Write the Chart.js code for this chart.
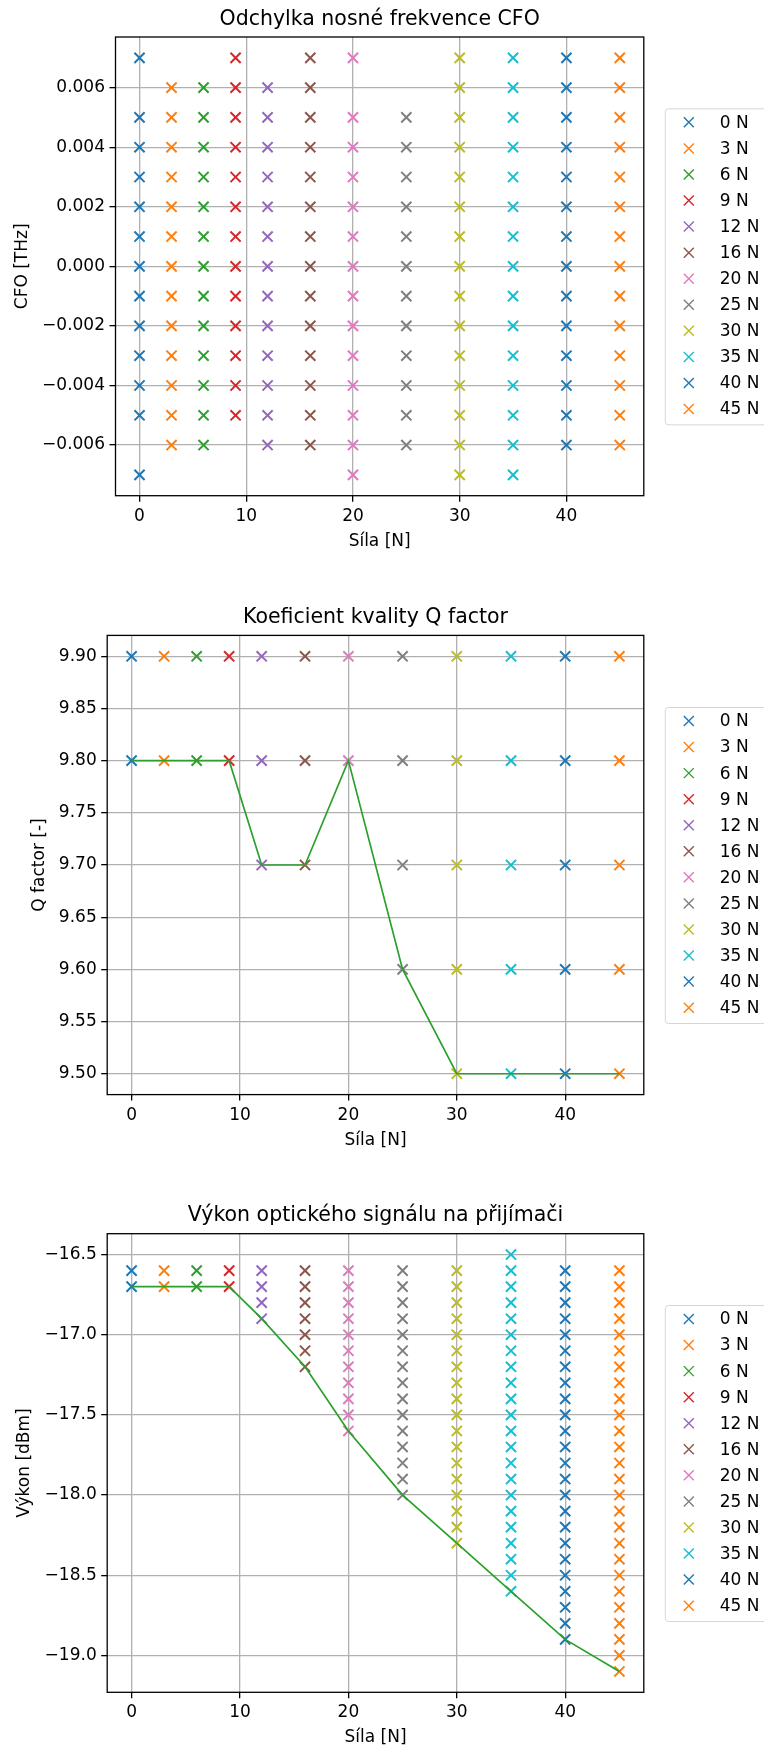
<!DOCTYPE html>
<html>
<head>
<meta charset="utf-8">
<script src="https://cdn.jsdelivr.net/npm/chart.js@4.4.0/dist/chart.umd.min.js"></script>
<style>
    html, body { margin: 0; padding: 0; background: #fff; overflow: hidden; }
    body { width: 764px; height: 1749px; position: relative; }
    canvas { position: absolute; left: 0; }
</style>
</head>
<body>
<canvas id="cfoChart" width="764" height="560" style="top:0px"></canvas>
<canvas id="qChart" width="764" height="600" style="top:560px"></canvas>
<canvas id="powerChart" width="764" height="580" style="top:1180px"></canvas>
<script>
// force levels (x) and legend labels
var forces = [0, 3, 6, 9, 12, 16, 20, 25, 30, 35, 40, 45];
var forceLabels = ['0 N', '3 N', '6 N', '9 N', '12 N', '16 N', '20 N', '25 N', '30 N', '35 N', '40 N', '45 N'];
var colors = ['#1f77b4', '#ff7f0e', '#2ca02c', '#d62728', '#9467bd', '#8c564b',
              '#e377c2', '#7f7f7f', '#bcbd22', '#17becf', '#1f77b4', '#ff7f0e'];

// CFO [THz] readings, one list per force
var cfoValues = [
    [0.007, 0.005, 0.004, 0.003, 0.002, 0.001, 0, -0.001, -0.002, -0.003, -0.004, -0.005, -0.007],
    [0.006, 0.005, 0.004, 0.003, 0.002, 0.001, 0, -0.001, -0.002, -0.003, -0.004, -0.005, -0.006],
    [0.006, 0.005, 0.004, 0.003, 0.002, 0.001, 0, -0.001, -0.002, -0.003, -0.004, -0.005, -0.006],
    [0.007, 0.006, 0.005, 0.004, 0.003, 0.002, 0.001, 0, -0.001, -0.002, -0.003, -0.004, -0.005],
    [0.006, 0.005, 0.004, 0.003, 0.002, 0.001, 0, -0.001, -0.002, -0.003, -0.004, -0.005, -0.006],
    [0.007, 0.006, 0.005, 0.004, 0.003, 0.002, 0.001, 0, -0.001, -0.002, -0.003, -0.004, -0.005, -0.006],
    [0.007, 0.005, 0.004, 0.003, 0.002, 0.001, 0, -0.001, -0.002, -0.003, -0.004, -0.005, -0.006, -0.007],
    [0.005, 0.004, 0.003, 0.002, 0.001, 0, -0.001, -0.002, -0.003, -0.004, -0.005, -0.006],
    [0.007, 0.006, 0.005, 0.004, 0.003, 0.002, 0.001, 0, -0.001, -0.002, -0.003, -0.004, -0.005, -0.006, -0.007],
    [0.007, 0.006, 0.005, 0.004, 0.003, 0.002, 0.001, 0, -0.001, -0.002, -0.003, -0.004, -0.005, -0.006, -0.007],
    [0.007, 0.006, 0.005, 0.004, 0.003, 0.002, 0.001, 0, -0.001, -0.002, -0.003, -0.004, -0.005, -0.006],
    [0.007, 0.006, 0.005, 0.004, 0.003, 0.002, 0.001, 0, -0.001, -0.002, -0.003, -0.004, -0.005, -0.006]
];

// Q factor readings, one list per force
var qValues = [
    [9.9, 9.8],
    [9.9, 9.8],
    [9.9, 9.8],
    [9.9, 9.8],
    [9.9, 9.8, 9.7],
    [9.9, 9.8, 9.7],
    [9.9, 9.8],
    [9.9, 9.8, 9.7, 9.6],
    [9.9, 9.8, 9.7, 9.6, 9.5],
    [9.9, 9.8, 9.7, 9.6, 9.5],
    [9.9, 9.8, 9.7, 9.6, 9.5],
    [9.9, 9.8, 9.7, 9.6, 9.5]
];
var qLine = [9.8, 9.8, 9.8, 9.8, 9.7, 9.7, 9.8, 9.6, 9.5, 9.5, 9.5, 9.5];

// received power [dBm], one list per force
var powerValues = [
    [-16.6, -16.7],
    [-16.6, -16.7],
    [-16.6, -16.7],
    [-16.6, -16.7],
    [-16.6, -16.7, -16.8, -16.9],
    [-16.6, -16.7, -16.8, -16.9, -17.0, -17.1, -17.2],
    [-16.6, -16.7, -16.8, -16.9, -17.0, -17.1, -17.2, -17.3, -17.4, -17.5, -17.6],
    [-16.6, -16.7, -16.8, -16.9, -17.0, -17.1, -17.2, -17.3, -17.4, -17.5, -17.6, -17.7, -17.8, -17.9, -18.0],
    [-16.6, -16.7, -16.8, -16.9, -17.0, -17.1, -17.2, -17.3, -17.4, -17.5, -17.6, -17.7, -17.8, -17.9, -18.0,
     -18.1, -18.2, -18.3],
    [-16.5, -16.6, -16.7, -16.8, -16.9, -17.0, -17.1, -17.2, -17.3, -17.4, -17.5, -17.6, -17.7, -17.8, -17.9,
     -18.0, -18.1, -18.2, -18.3, -18.4, -18.5, -18.6],
    [-16.6, -16.7, -16.8, -16.9, -17.0, -17.1, -17.2, -17.3, -17.4, -17.5, -17.6, -17.7, -17.8, -17.9, -18.0,
     -18.1, -18.2, -18.3, -18.4, -18.5, -18.6, -18.7, -18.8, -18.9],
    [-16.6, -16.7, -16.8, -16.9, -17.0, -17.1, -17.2, -17.3, -17.4, -17.5, -17.6, -17.7, -17.8, -17.9, -18.0,
     -18.1, -18.2, -18.3, -18.4, -18.5, -18.6, -18.7, -18.8, -18.9, -19.0, -19.1]
];
var powerLine = [-16.7, -16.7, -16.7, -16.7, -16.9, -17.2, -17.6, -18.0, -18.3, -18.6, -18.9, -19.1];

// tick values
var forceTicks = [0, 10, 20, 30, 40];
var cfoTicks = [-0.006, -0.004, -0.002, 0, 0.002, 0.004, 0.006];
var qTicks = [9.50, 9.55, 9.60, 9.65, 9.70, 9.75, 9.80, 9.85, 9.90];
var powerTicks = [-19.0, -18.5, -18.0, -17.5, -17.0, -16.5];

var fontFamily = '"DejaVu Sans", sans-serif';
var W = 764;

function fmt(v, digits) {
    return v.toFixed(digits).replace('-', '\u2212');
}

// axes frame + legend to the right of the plot (cut by the page edge like the original)
var frameAndLegend = {
    id: 'frameAndLegend',
    afterDraw: function (chart) {
        var ctx = chart.ctx;
        var a = chart.chartArea;
        ctx.save();
        ctx.strokeStyle = '#000';
        ctx.lineWidth = 1.3;
        ctx.strokeRect(a.left, a.top, a.right - a.left, a.bottom - a.top);

        var items = chart.data.datasets.filter(function (d) { return !d.noLegend; });
        var boxH = 316;
        var boxX = a.right + 21;
        var boxY = (a.top + a.bottom) / 2 - boxH / 2;
        ctx.fillStyle = 'rgba(255,255,255,0.8)';
        ctx.strokeStyle = '#d6d6d6';
        ctx.lineWidth = 1;
        ctx.beginPath();
        ctx.roundRect(boxX + 0.5, boxY + 0.5, 140, boxH, 3);
        ctx.fill();
        ctx.stroke();

        ctx.font = '17px ' + fontFamily;
        ctx.textBaseline = 'middle';
        ctx.textAlign = 'left';
        items.forEach(function (d, i) {
            var cy = boxY + 14 + i * 26.06;
            var cx = boxX + 24;
            ctx.strokeStyle = d.pointBorderColor;
            ctx.lineWidth = 1.4;
            ctx.beginPath();
            ctx.moveTo(cx - 5, cy - 5); ctx.lineTo(cx + 5, cy + 5);
            ctx.moveTo(cx - 5, cy + 5); ctx.lineTo(cx + 5, cy - 5);
            ctx.stroke();
            ctx.fillStyle = '#000';
            ctx.fillText(d.label, boxX + 55, cy + 1);
        });
        ctx.restore();
    }
};

function makeChart(id, cfg) {
    var ctx = document.getElementById(id).getContext('2d');
    var canvasH = document.getElementById(id).height;

    var datasets = [];
    cfg.values.forEach(function (vals, i) {
        datasets.push({
            label: forceLabels[i],
            data: vals.map(function (v) { return { x: forces[i], y: v }; }),
            showLine: false,
            pointStyle: 'crossRot',
            pointRadius: 7.2,
            pointBorderColor: colors[i],
            pointBackgroundColor: colors[i],
            pointBorderWidth: 2,
            borderColor: colors[i],
        });
    });
    if (cfg.line) {
        datasets.push({
            label: 'line',
            noLegend: true,
            data: cfg.line.map(function (v, i) { return { x: forces[i], y: v }; }),
            showLine: true,
            borderColor: '#2ca02c',
            borderWidth: 1.7,
            pointRadius: 0,
            fill: false,
            order: -1,
        });
    }

    var axisFont = { family: fontFamily, size: 17 };

    var options = {
        responsive: false,
        animation: false,
        events: [],
        layout: {
            padding: { left: 0, top: 0, right: W - cfg.right, bottom: canvasH - cfg.bottom - 64.3 }
        },
        plugins: {
            legend: { display: false },
            tooltip: { enabled: false },
            title: {
                display: true,
                text: cfg.title,
                color: '#000',
                fullSize: false,
                font: { family: fontFamily, size: 20.5, weight: 'normal' },
                padding: { top: cfg.titleTop, bottom: cfg.top - cfg.titleTop - 24.6 },
            },
        },
        scales: {
            x: {
                type: 'linear',
                min: -2.25,
                max: 47.25,
                afterBuildTicks: function (s) {
                    s.ticks = forceTicks.map(function (v) { return { value: v }; });
                },
                afterFit: function (s) { s.height = 64.3; },
                grid: { color: '#b0b0b0', lineWidth: 1.3, tickLength: 6, tickColor: '#000', tickWidth: 1.3 },
                border: { display: false },
                ticks: {
                    color: '#000', font: axisFont, padding: 4.5, maxRotation: 0, autoSkip: false,
                    callback: function (v) { return String(v); },
                },
                title: {
                    display: true, text: 'Síla [N]', color: '#000', font: axisFont,
                    padding: { top: 0, bottom: 8.6 },
                },
            },
            y: {
                type: 'linear',
                min: cfg.yMin,
                max: cfg.yMax,
                afterBuildTicks: function (s) {
                    s.ticks = cfg.yTicks.map(function (v) { return { value: v }; });
                },
                afterFit: function (s) { s.width = cfg.left; },
                grid: { color: '#b0b0b0', lineWidth: 1.3, tickLength: 6, tickColor: '#000', tickWidth: 1.3 },
                border: { display: false },
                ticks: {
                    color: '#000', font: axisFont, padding: 4.5, autoSkip: false,
                    callback: function (v) { return fmt(v, cfg.digits); },
                },
                title: {
                    display: true, text: cfg.yTitle, color: '#000', font: axisFont,
                    padding: { top: cfg.yTitleX - 10.2, bottom: 0 },
                },
            },
        },
    };

    return new Chart(ctx, {
        type: 'scatter',
        data: { datasets: datasets },
        options: options,
        plugins: [frameAndLegend],
    });
}

makeChart('cfoChart', {
    title: 'Odchylka nosné frekvence CFO',
    yTitle: 'CFO [THz]',
    values: cfoValues,
    yTicks: cfoTicks, yMin: -0.0077, yMax: 0.0077, digits: 3,
    left: 115.5, right: 643.8, top: 37, bottom: 495.7,
    titleTop: 7.2, yTitleX: 22.4,
});

makeChart('qChart', {
    title: 'Koeficient kvality Q factor',
    yTitle: 'Q factor [-]',
    values: qValues,
    line: qLine,
    yTicks: qTicks, yMin: 9.48, yMax: 9.92, digits: 2,
    left: 107.2, right: 643.8, top: 75.4, bottom: 534.6,
    titleTop: 45.1, yTitleX: 39.2,
});

makeChart('powerChart', {
    title: 'Výkon optického signálu na přijímači',
    yTitle: 'Výkon [dBm]',
    values: powerValues,
    line: powerLine,
    yTicks: powerTicks, yMin: -19.23, yMax: -16.37, digits: 1,
    left: 107.2, right: 643.8, top: 53.7, bottom: 512.3,
    titleTop: 23.2, yTitleX: 25,
});
</script>
</body>
</html>
